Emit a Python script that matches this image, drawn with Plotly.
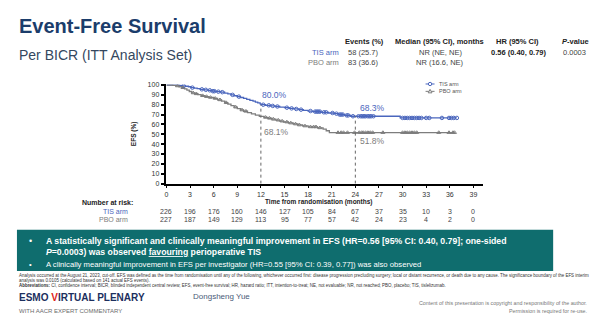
import numpy as np
import plotly.graph_objects as go

W, H = 600, 329

# ---------------- data ----------------
months_ticks = [0, 3, 6, 9, 12, 15, 18, 21, 24, 27, 30, 33, 36, 39]
y_ticks = [0, 10, 20, 30, 40, 50, 60, 70, 80, 90, 100]

tis_t = [0, 1.6, 2.0, 2.4, 2.8, 3.1, 3.5, 3.9, 4.3, 4.8, 5.3, 5.8, 6.3, 6.9, 7.4, 7.8, 8.2, 8.6,
         9.0, 9.4, 9.8, 10.2, 10.6, 11.0, 11.3, 11.6, 11.9, 12.0, 12.6, 13.2, 13.8, 14.4, 15.0,
         15.6, 16.2, 16.8, 17.4, 18.0, 18.6, 19.6, 20.6, 21.3, 21.9, 22.6, 23.4, 29.7]
tis_s = [100, 99.6, 99.1, 98.7, 98.2, 97.3, 96.9, 96.4, 95.6, 95.1, 94.6, 93.7, 93.2, 92.7, 91.8,
         90.9, 90.0, 89.1, 88.2, 87.3, 86.4, 85.4, 84.5, 83.6, 82.7, 81.8, 80.9, 80.0, 79.4, 78.8,
         78.2, 77.6, 77.0, 76.3, 75.7, 75.0, 74.3, 73.6, 73.0, 72.3, 71.6, 70.9, 70.0, 69.2, 68.3, 66.6]
tis_end = 36.9
tis_cens = [2.2, 3.3, 4.5, 5.0, 5.5, 5.9, 6.1, 6.6, 7.1, 8.4, 9.2, 12.3, 13.0, 13.5, 14.1, 15.3,
            15.9, 16.5, 17.1, 18.3, 18.9, 19.1, 19.3, 19.5, 20.0, 20.3, 21.1, 21.6, 22.0, 22.2,
            22.4, 22.9, 23.1, 23.7, 24.4, 24.7, 24.9, 25.1, 25.3, 25.6, 25.8, 26.0, 26.3, 30.0,
            30.3, 30.6, 30.9, 31.2, 31.5, 31.8, 32.1, 32.4, 33.0, 33.4, 35.0, 35.9, 36.2, 36.5, 36.9]

pbo_t = [0, 0.8, 1.2, 1.6, 2.0, 2.3, 2.6, 2.9, 3.2, 3.6, 4.0, 4.4, 4.9, 5.4, 6.0, 6.5, 7.0, 7.4,
         7.8, 8.2, 8.6, 9.0, 9.4, 9.8, 10.3, 10.8, 11.3, 11.8, 12.4, 12.9, 13.4, 13.9, 14.4, 14.9,
         15.5, 16.1, 16.7, 17.3, 18.0, 19.2, 19.9, 20.3, 20.7]
pbo_s = [100, 99.6, 99.1, 98.2, 97.3, 96.0, 94.7, 93.4, 92.0, 91.1, 90.2, 89.2, 88.3, 87.4, 86.4,
         85.0, 83.6, 82.1, 80.6, 79.1, 77.6, 76.0, 74.7, 73.4, 72.0, 70.7, 69.4, 68.1, 67.2, 66.3,
         65.3, 64.4, 63.4, 62.5, 61.5, 60.5, 59.5, 58.5, 57.6, 56.6, 55.2, 53.6, 51.8]
pbo_end = 36.6
pbo_cens = [1.4, 2.1, 3.4, 3.8, 4.6, 5.1, 5.6, 6.2, 6.8, 7.6, 8.8, 9.6, 10.1, 12.6, 13.1, 13.6,
            14.2, 14.7, 15.3, 15.8, 16.4, 16.9, 17.6, 18.3, 18.7, 19.0, 19.5, 21.8, 22.2, 22.5,
            23.0, 23.9, 24.5, 24.8, 25.0, 25.3, 25.6, 25.9, 26.2, 27.5, 30.0, 30.3, 30.6, 30.9,
            31.2, 31.5, 31.8, 34.6, 35.9, 36.4, 36.6]

landmark_t = [12, 24]
tis_landmark = [80.0, 68.3]
pbo_landmark = [68.1, 51.8]

risk_tis = [226, 196, 176, 160, 146, 127, 105, 84, 67, 37, 35, 10, 3, 0]
risk_pbo = [227, 187, 149, 129, 113, 95, 77, 57, 42, 24, 23, 4, 2, 0]

BLUE = "#4a66bd"
GREY = "#7d7d7d"
TEAL = "#0f6d6e"
NAVY = "#1b3d6b"
FONT = "Liberation Sans, Arial, sans-serif"


def px(x):
    return x / W


def py(y):
    return 1 - y / H


def step_value(times, surv, t):
    i = np.searchsorted(np.array(times), t, side="right") - 1
    return np.array(surv)[i]


fig = go.Figure()

# curves
for t, s, end, col in [(tis_t, tis_s, tis_end, BLUE), (pbo_t, pbo_s, pbo_end, GREY)]:
    fig.add_trace(go.Scatter(x=list(t) + [end], y=list(s) + [s[-1]], mode="lines",
                             line=dict(color=col, width=1.3, shape="hv"),
                             showlegend=False, hoverinfo="skip"))

fig.add_trace(go.Scatter(x=tis_cens, y=step_value(tis_t, tis_s, tis_cens), mode="markers",
                         marker=dict(symbol="circle-open", size=3.5, color=BLUE, line=dict(width=1)),
                         showlegend=False, hoverinfo="skip"))
fig.add_trace(go.Scatter(x=pbo_cens, y=step_value(pbo_t, pbo_s, pbo_cens), mode="markers",
                         marker=dict(symbol="triangle-up-open", size=3.5, color=GREY, line=dict(width=1)),
                         showlegend=False, hoverinfo="skip"))

# landmark dashed lines
for lt, lv in zip(landmark_t, tis_landmark):
    fig.add_trace(go.Scatter(x=[lt, lt], y=[0, lv], mode="lines",
                             line=dict(color="#666666", width=1, dash="dot"),
                             showlegend=False, hoverinfo="skip"))

ann = []


def A(x, y, text, size, color="#333333", anchor="left", bold=False, xref="paper", yref="paper", **kw):
    if bold:
        text = "<b>" + text + "</b>"
    d = dict(x=x if xref != "paper" else px(x), y=py(y) if yref == "paper" else y,
             xref=xref, yref=yref, text=text, showarrow=False,
             xanchor=anchor, yanchor="middle",
             font=dict(size=size, color=color, family=kw.pop("family", FONT)))
    d.update(kw)
    ann.append(d)


# landmark labels
A(landmark_t[0] - 0.1, 89.5, f"{tis_landmark[0]:.1f}%", 8.5, BLUE, xref="x", yref="y")
A(landmark_t[0] + 0.1, 52.5, f"{pbo_landmark[0]:.1f}%", 8.5, GREY, xref="x", yref="y")
A(landmark_t[1] + 0.4, 76.5, f"{tis_landmark[1]:.1f}%", 8.5, BLUE, xref="x", yref="y")
A(landmark_t[1] + 0.4, 43.0, f"{pbo_landmark[1]:.1f}%", 8.5, GREY, xref="x", yref="y")

# axis titles
A(132, 133, "EFS (%)", 6.5, "#222222", anchor="center", bold=True, textangle=-90)
A(318, 202.5, "Time from randomisation (months)", 6.5, "#222222", anchor="center", bold=True)

# number at risk
A(133, 203, "Number at risk:", 7, "#222222", anchor="right", bold=True)
A(128, 212, "TIS arm", 7, BLUE, anchor="right")
A(128, 221, "PBO arm", 7, GREY, anchor="right")
for m, a, b in zip(months_ticks, risk_tis, risk_pbo):
    ann.append(dict(x=m, y=py(212), xref="x", yref="paper", text=str(a), showarrow=False,
                    xanchor="center", yanchor="middle", font=dict(size=7, color="#444444", family=FONT)))
    ann.append(dict(x=m, y=py(221), xref="x", yref="paper", text=str(b), showarrow=False,
                    xanchor="center", yanchor="middle", font=dict(size=7, color="#444444", family=FONT)))

# legend (manual)
shapes = []
for yy, col, sym in [(82.5, BLUE, "o"), (90, GREY, "t")]:
    shapes.append(dict(type="line", xref="paper", yref="paper", x0=px(425), x1=px(434),
                       y0=py(yy), y1=py(yy), line=dict(color=col, width=1)))
    if sym == "o":
        shapes.append(dict(type="circle", xref="paper", yref="paper", x0=px(427.8), x1=px(431.2),
                           y0=py(yy - 1.7), y1=py(yy + 1.7), line=dict(color=col, width=1),
                           fillcolor="white"))
    else:
        shapes.append(dict(type="path", xref="paper", yref="paper",
                           path=f"M {px(427.6)} {py(yy + 1.5)} L {px(431.4)} {py(yy + 1.5)} L {px(429.5)} {py(yy - 2)} Z",
                           line=dict(color=col, width=1), fillcolor="white"))
A(436, 82.5, "TIS arm", 5.5, "#555555")
A(436, 90, "PBO arm", 5.5, "#555555")

# Title
A(15, 23, "Event-Free Survival", 20, NAVY, bold=True)
A(15, 53, "Per BICR (ITT Analysis Set)", 14, "#34475e")

# Summary table
A(364, 39, "Events (%)", 7.5, "#222222", anchor="center", bold=True)
A(439, 39, "Median (95% CI), months", 7.5, "#222222", anchor="center", bold=True)
A(517, 39, "HR (95% CI)", 7.5, "#222222", anchor="center", bold=True)
A(575, 39, "<i>P</i>-value", 7.5, "#222222", anchor="center", bold=True)
A(340, 50, "TIS arm", 7.5, BLUE, anchor="right")
A(345, 50, "58 (25.7)", 7.5, "#444444")
A(440, 50, "NR (NE, NE)", 7.5, "#444444", anchor="center")
A(519, 50, "0.56 (0.40, 0.79)", 7.5, "#222222", anchor="center", bold=True)
A(574, 50, "0.0003", 7.5, "#444444", anchor="center")
A(340, 61, "PBO arm", 7.5, GREY, anchor="right")
A(345, 61, "83 (36.6)", 7.5, "#444444")
A(439, 61, "NR (16.6, NE)", 7.5, "#444444", anchor="center")

# Teal box
shapes.append(dict(type="rect", xref="paper", yref="paper", x0=px(15), x1=px(553), y0=py(231),
                   y1=py(273), fillcolor=TEAL, line=dict(width=0), layer="below"))
A(25, 242, "•", 9, "white")
A(42, 242, "A statistically significant and clinically meaningful improvement in EFS (HR=0.56 [95% CI: 0.40, 0.79]; one-sided",
  8.7, "white", bold=True)
A(42, 254, "<i>P</i>=0.0003) was observed <u>favouring</u> perioperative TIS", 8.7, "white", bold=True)
A(25, 266, "•", 7.5, "white")
A(42, 266, "A clinically meaningful improvement in EFS per investigator (HR=0.55 [95% CI: 0.39, 0.77]) was also observed",
  7.7, "white")

# footnotes
A(15, 277.5, "Analysis occurred at the August 21, 2023, cut-off. EFS was defined as the time from randomisation until any of the following, whichever occurred first: disease progression precluding surgery; local or distant recurrence, or death due to any cause. The significance boundary of the EFS interim",
  4.45, "#333333")
A(15, 282.5, "analysis was 0.0105 (calculated based on 141 actual EFS events).", 4.45, "#333333")
A(15, 287.5, "<b>Abbreviations:</b> CI, confidence interval; BICR, blinded independent central review; EFS, event-free survival; HR, hazard ratio; ITT, intention-to-treat; NE, not evaluable; NR, not reached; PBO, placebo; TIS, tislelizumab.",
  4.45, "#333333")

# logo / presenter / copyright
A(15, 300, "ESMO <span style='color:#e0241b'>V</span>IRTUAL PLENARY", 10, "#1c2f5e", bold=True)
A(15, 314, "WITH AACR EXPERT COMMENTARY", 6, "#6b6b6b")
A(190, 299, "Dongsheng Yue", 8, "#4a5a78")
A(589, 306, "Content of this presentation is copyright and responsibility of the author.", 5.3, "#777777", anchor="right")
A(589, 313.5, "Permission is required for re-use.", 5.3, "#777777", anchor="right")

fig.update_layout(
    width=W, height=H, margin=dict(l=0, r=0, t=0, b=0),
    paper_bgcolor="white", plot_bgcolor="white",
    font=dict(family=FONT),
    xaxis=dict(domain=[px(165), px(483)], range=[0, 40.27], tickvals=months_ticks,
               showline=True, linecolor="black", linewidth=1.5, ticks="outside", ticklen=3,
               tickwidth=1.2, tickcolor="black", tickfont=dict(size=7, color="#333333"),
               showgrid=False, zeroline=False, fixedrange=True),
    yaxis=dict(domain=[py(184), py(83)], range=[0, 100.5], tickvals=y_ticks,
               showline=True, linecolor="black", linewidth=1.5, ticks="outside", ticklen=4,
               tickwidth=1.5, tickcolor="black", tickfont=dict(size=7, color="#333333"),
               showgrid=False, zeroline=False, fixedrange=True),
    annotations=ann, shapes=shapes, showlegend=False,
)

fig.write_html("out.html")
